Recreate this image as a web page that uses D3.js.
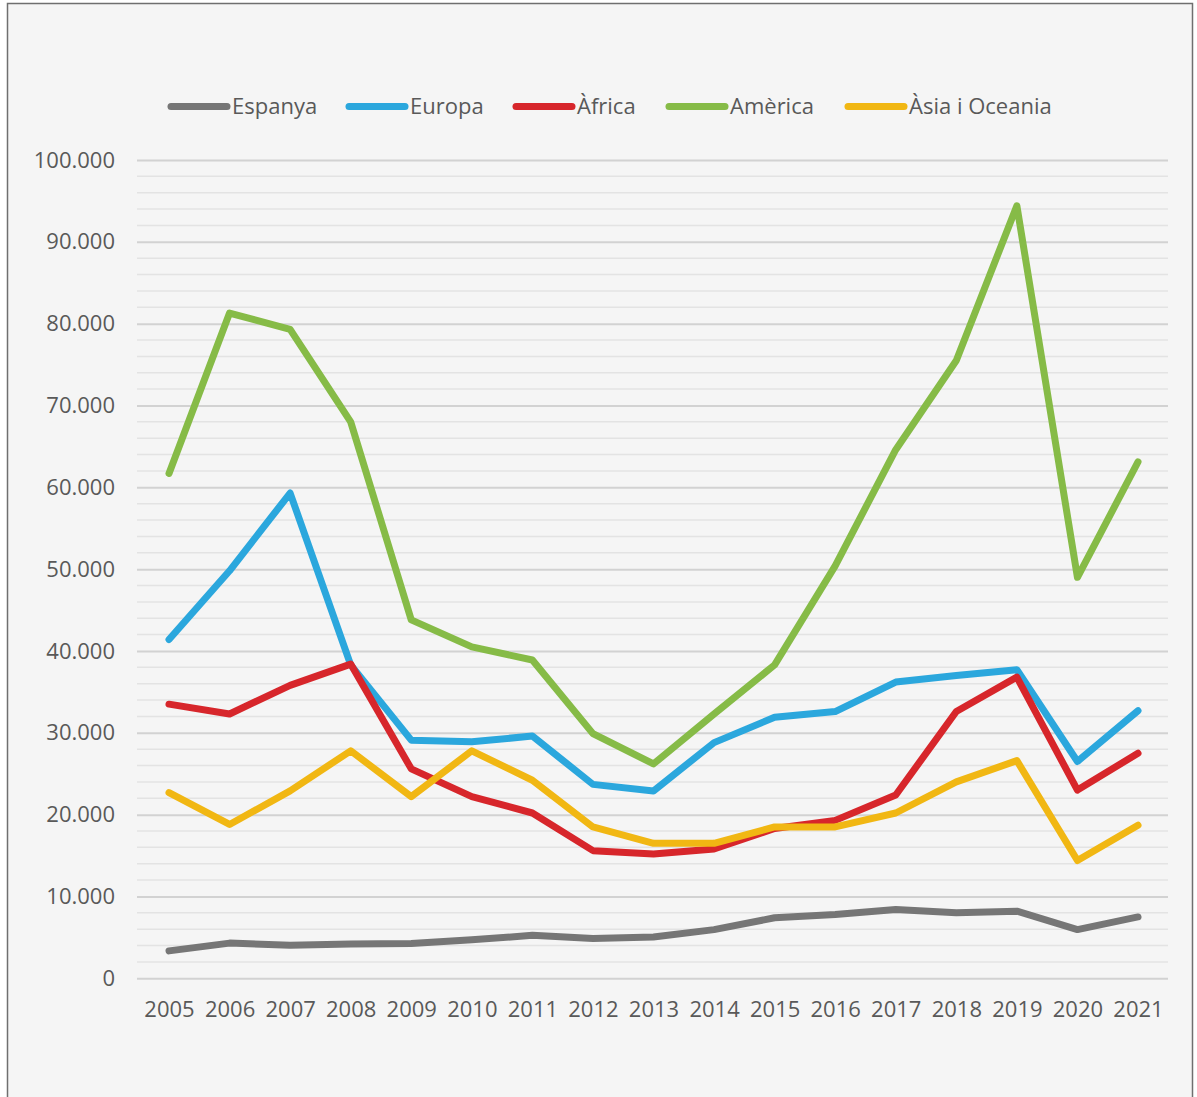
<!DOCTYPE html>
<html>
<head>
<meta charset="utf-8">
<script src="https://cdn.jsdelivr.net/npm/d3@7"></script>
<style>
  html, body { margin: 0; padding: 0; background: #ffffff; }
  svg { display: block; }
  text { font-family: "Open Sans", "Noto Sans", sans-serif; fill: #595959; }
</style>
</head>
<body>
<svg id="chart" width="1197" height="1097"></svg>
<script>
const years = [2005, 2006, 2007, 2008, 2009, 2010, 2011, 2012, 2013, 2014, 2015, 2016, 2017, 2018, 2019, 2020, 2021];
const seriesNames = ["Espanya", "Europa", "Àfrica", "Amèrica", "Àsia i Oceania"];
const seriesColors = ["#767676", "#2ba7dd", "#d7262b", "#86bb47", "#f1b713"];
const espanya = [3350, 4300, 4050, 4200, 4250, 4700, 5250, 4850, 5050, 5950, 7400, 7800, 8400, 8000, 8200, 5950, 7500];
const europa  = [41400, 49800, 59300, 38300, 29100, 28900, 29600, 23700, 22900, 28800, 31900, 32600, 36200, 37000, 37700, 26500, 32700];
const africa  = [33500, 32300, 35800, 38400, 25600, 22200, 20200, 15600, 15200, 15800, 18300, 19300, 22400, 32600, 36800, 23000, 27500];
const america = [61700, 81300, 79300, 68000, 43800, 40500, 38900, 29900, 26200, 32300, 38300, 50400, 64600, 75500, 94400, 49000, 63100];
const asia    = [22700, 18800, 22900, 27800, 22200, 27800, 24200, 18500, 16500, 16500, 18500, 18500, 20200, 24000, 26600, 14400, 18700];
const seriesValues = [espanya, europa, africa, america, asia];
const yMajorTicks = [0, 10000, 20000, 30000, 40000, 50000, 60000, 70000, 80000, 90000, 100000];
const yMinorStep = 2000;

const svg = d3.select("#chart");

// frame
svg.append("rect")
  .attr("x", 7.5).attr("y", 3.5)
  .attr("width", 1185).attr("height", 1110)
  .attr("fill", "#f5f5f5")
  .attr("stroke", "#6f6f6f").attr("stroke-width", 1.5);

const gridLeft = 137, gridRight = 1168;
const x = d3.scalePoint().domain(years).range([169, 1138]);
const y = d3.scaleLinear().domain([0, 100000]).range([978.3, 160]);

const locale = d3.formatLocale({ decimal: ",", thousands: ".", grouping: [3], currency: ["", "€"] });
const fmt = locale.format(",");

// minor gridlines
const minorTicks = d3.range(0, 100001, yMinorStep).filter(v => v % 10000 !== 0);
svg.append("g").selectAll("line").data(minorTicks).join("line")
  .attr("x1", gridLeft).attr("x2", gridRight)
  .attr("y1", d => y(d)).attr("y2", d => y(d))
  .attr("stroke", "#e3e3e3").attr("stroke-width", 1.5);

// y axis (major gridlines + labels)
const yAxis = d3.axisLeft(y).tickValues(yMajorTicks).tickFormat(d => fmt(d))
  .tickSize(-(gridRight - gridLeft)).tickPadding(22);
const gy = svg.append("g").attr("transform", `translate(${gridLeft},0)`).call(yAxis);
gy.select(".domain").remove();
gy.selectAll(".tick line").attr("stroke", "#d2d2d2").attr("stroke-width", 2).attr("x1", 0).attr("x2", gridRight - gridLeft);
gy.selectAll(".tick text").attr("font-size", 22).attr("fill", "#595959")
  .attr("font-family", "'Open Sans', sans-serif");

// x axis labels
const xAxis = d3.axisBottom(x).tickSize(0).tickPadding(23);
const gx = svg.append("g").attr("transform", `translate(0,${y(0)})`).call(xAxis);
gx.select(".domain").remove();
gx.selectAll(".tick text").attr("font-size", 22).attr("fill", "#595959")
  .attr("font-family", "'Open Sans', sans-serif");

// lines
const line = d3.line().x((d, i) => x(years[i])).y(d => y(d)).curve(d3.curveLinear);
seriesValues.forEach((vals, si) => {
  svg.append("path")
    .datum(vals)
    .attr("d", line)
    .attr("fill", "none")
    .attr("stroke", seriesColors[si])
    .attr("stroke-width", 7)
    .attr("stroke-linejoin", "round")
    .attr("stroke-linecap", "round");
});

// legend
const legendX = [171, 349, 516, 669, 848];
const legendY = 106.5;
const lg = svg.append("g");
seriesNames.forEach((name, i) => {
  lg.append("line")
    .attr("x1", legendX[i]).attr("x2", legendX[i] + 56)
    .attr("y1", legendY).attr("y2", legendY)
    .attr("stroke", seriesColors[i]).attr("stroke-width", 7)
    .attr("stroke-linecap", "round");
  lg.append("text")
    .attr("x", legendX[i] + 61).attr("y", legendY)
    .attr("dy", "0.35em")
    .attr("font-size", 22)
    .text(name);
});
</script>
</body>
</html>
